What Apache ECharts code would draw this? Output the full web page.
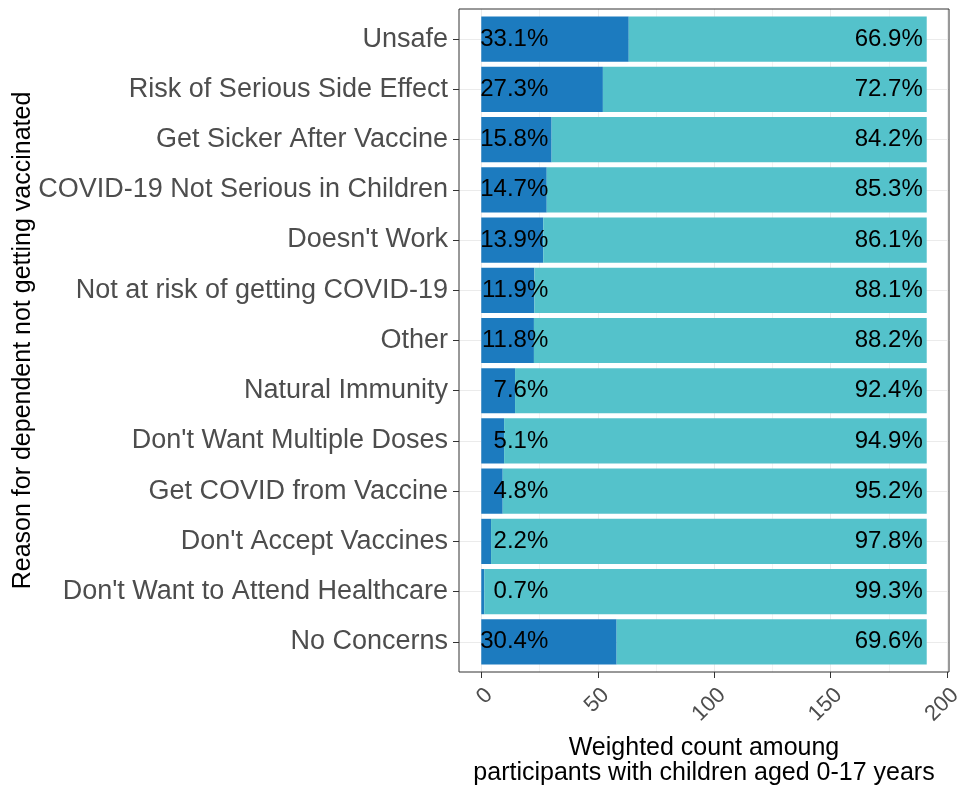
<!DOCTYPE html>
<html>
<head>
<meta charset="utf-8">
<script src="https://cdn.jsdelivr.net/npm/echarts@6/dist/echarts.min.js"></script>
<style>
html,body{margin:0;padding:0;background:#fff;}
#chart{width:962px;height:793px;}
</style>
</head>
<body>
<div id="chart"></div>
<script>
const categories = ["Unsafe","Risk of Serious Side Effect","Get Sicker After Vaccine","COVID-19 Not Serious in Children","Doesn't Work","Not at risk of getting COVID-19","Other","Natural Immunity","Don't Want Multiple Doses","Get COVID from Vaccine","Don't Accept Vaccines","Don't Want to Attend Healthcare","No Concerns"];
const pctYes = [33.1,27.3,15.8,14.7,13.9,11.9,11.8,7.6,5.1,4.8,2.2,0.7,30.4];
const pctNo = [66.9,72.7,84.2,85.3,86.1,88.1,88.2,92.4,94.9,95.2,97.8,99.3,69.6];
const countYes = [63.3,52.2,30.2,28.1,26.6,22.8,22.6,14.5,9.8,9.2,4.2,1.3,58.1];
const countNo = [127.9,139.0,161.0,163.1,164.6,168.4,168.6,176.7,181.4,182.0,187.0,189.9,133.1];
const xTicks = [0,50,100,150,200];
const xMinorTicks = [25,75,125,175];
const xTitle = "Weighted count amoung\nparticipants with children aged 0-17 years";
const yTitle = "Reason for dependent not getting vaccinated";

const FONT = "'Liberation Sans', Arial, sans-serif";
const X_MIN = -9.56, X_MAX = 200.76;
const catIdx = categories.map((c, i) => i);
const band = (793 - 121 - 9) / 13.2;
const pad = band * 0.1;

const chart = echarts.init(document.getElementById('chart'), null, {renderer: 'canvas'});
chart.setOption({
  animation: false,
  backgroundColor: '#ffffff',
  textStyle: {fontFamily: FONT},
  grid: [
    {left: 459, right: 13, top: 9, bottom: 121, outerBoundsMode: 'none', containLabel: false,
     show: true, borderColor: '#333333', borderWidth: 1, backgroundColor: 'rgba(0,0,0,0)', z: 3},
    {left: 459, right: 13, top: 9 + pad, bottom: 121 + pad, outerBoundsMode: 'none', containLabel: false}
  ],
  xAxis: [
    {
      gridIndex: 0, type: 'value', min: X_MIN, max: X_MAX, position: 'bottom',
      axisLine: {show: false, onZero: false},
      axisTick: {show: true, customValues: xTicks, length: 6, lineStyle: {color: '#333333', width: 1}},
      axisLabel: {customValues: xTicks, rotate: 45, align: 'right', verticalAlign: 'top', margin: 12,
                  fontSize: 22, color: '#4D4D4D', fontFamily: FONT},
      splitLine: {show: true, lineStyle: {color: '#EBEBEB', width: 1}},
      name: xTitle, nameLocation: 'middle', nameGap: 64, nameMoveOverlap: false,
      nameTextStyle: {fontSize: 25, color: '#000', lineHeight: 25, fontFamily: FONT}
    },
    {
      gridIndex: 0, type: 'value', min: X_MIN, max: X_MAX, position: 'bottom',
      axisLine: {show: false, onZero: false},
      axisTick: {show: false, customValues: xMinorTicks},
      axisLabel: {show: false, customValues: xMinorTicks},
      splitLine: {show: true, lineStyle: {color: '#F3F3F3', width: 1}}
    },
    {gridIndex: 1, type: 'value', min: X_MIN, max: X_MAX, show: false, axisLine: {onZero: false}}
  ],
  yAxis: [
    {
      gridIndex: 0, type: 'value', inverse: true, min: -0.6, max: 12.6, position: 'left',
      axisLine: {show: false, onZero: false},
      axisTick: {show: true, customValues: catIdx, length: 6, lineStyle: {color: '#333333', width: 1}},
      axisLabel: {customValues: catIdx, margin: 11, fontSize: 27, color: '#4D4D4D', fontFamily: FONT,
                  formatter: v => categories[Math.round(v)]},
      splitLine: {show: true, lineStyle: {color: '#EBEBEB', width: 1}},
      name: yTitle, nameLocation: 'middle', nameRotate: 90, nameGap: 423, nameMoveOverlap: false,
      nameTextStyle: {fontSize: 25, color: '#000', fontFamily: FONT}
    },
    {gridIndex: 1, type: 'category', inverse: true, data: categories, show: false, boundaryGap: true, axisLine: {onZero: false}}
  ],
  series: [
    {
      type: 'bar', name: 'Yes', stack: 'total', xAxisIndex: 2, yAxisIndex: 1,
      data: countYes, barCategoryGap: '10%',
      itemStyle: {color: '#1C7BBF'},
      label: {show: true, position: [67, '50%'], align: 'right', verticalAlign: 'middle',
              fontSize: 24, color: '#000', fontFamily: FONT,
              formatter: p => pctYes[p.dataIndex].toFixed(1) + '%'},
      z: 2
    },
    {
      type: 'bar', name: 'No', stack: 'total', xAxisIndex: 2, yAxisIndex: 1,
      data: countNo, barCategoryGap: '10%',
      itemStyle: {color: '#54C2CB'},
      label: {show: true, position: 'insideRight', distance: 4,
              fontSize: 24, color: '#000', fontFamily: FONT,
              formatter: p => pctNo[p.dataIndex].toFixed(1) + '%'},
      z: 2
    }
  ]
});
</script>
</body>
</html>
